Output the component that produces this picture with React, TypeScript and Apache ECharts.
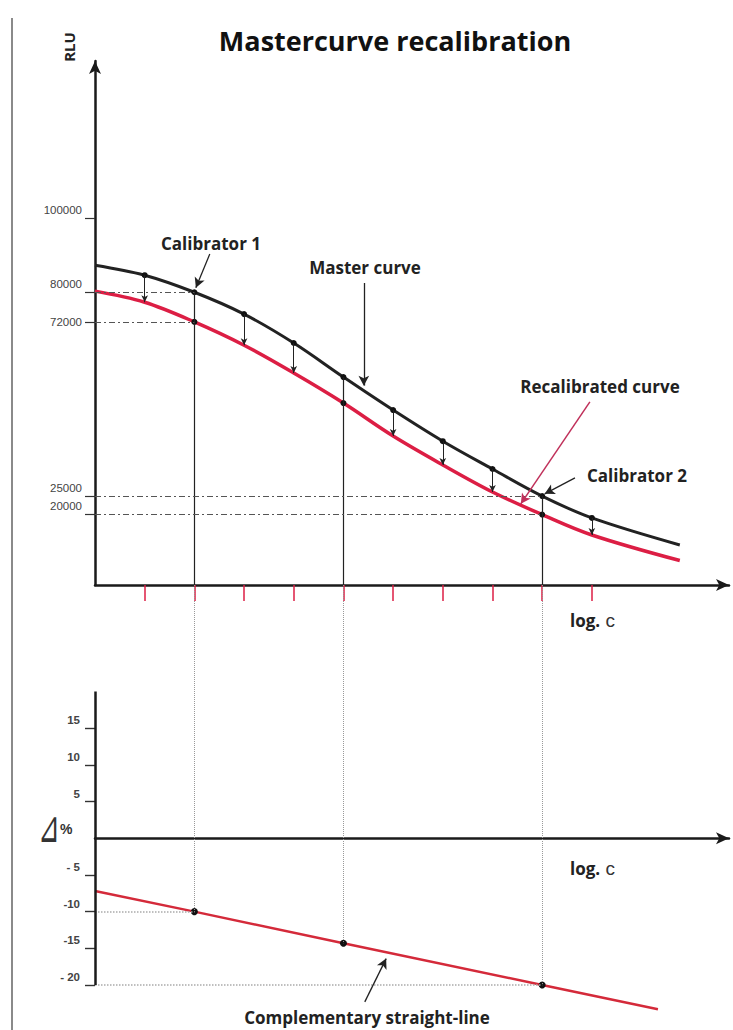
import React, { useEffect, useRef } from "react";
import * as echarts from "echarts";

// ---- data ----
const logC = [0, 1, 2, 3, 4, 5, 6, 7, 8, 9, 10, 11.77];
const masterRLU = [87300, 84600, 80000, 74100, 66300, 57100, 48200, 39800, 32300, 25000, 19100, 11800];
const recalRLU = [80300, 77300, 72000, 65700, 58200, 50100, 41200, 33400, 26100, 20000, 14500, 7600];
const calibratorIdx = [2, 5, 9];
const shiftArrowIdx = [1, 3, 4, 6, 7, 8, 10];
const xTickValues = [1, 2, 3, 4, 5, 6, 7, 8, 9, 10];
const rluTicks = [100000, 80000, 72000, 25000, 20000];
const rluTickLabels = ["100000", "80000", "72000", "25000", "20000"];
const refLineIdx = [2, 9];

const deltaX = [0, 2, 5, 9, 11.33];
const deltaPct = [-7.2, -10, -14.3, -20, -23.3];
const deltaPointIdx = [1, 2, 3];
const deltaTicks = [15, 10, 5, -5, -10, -15, -20];
const deltaTickLabels = ["15", "10", "5", "- 5", "-10", "-15", "- 20"];
const deltaRefIdx = [1, 3];

// annotation arrows [from, to] in data units
const cal1Arrow = [[2.31, 90300], [2.03, 81200]];
const masterArrow = [[5.41, 82500], [5.41, 54800]];
const recalArrow = [[9.96, 50400], [8.57, 22900]];
const cal2Arrow = [[9.66, 29900], [9.05, 25600]];
const complArrow = [[5.43, -22.3], [5.86, -16.4]];

const FONT = "'Open Sans', 'Noto Sans', sans-serif";
const LABEL_FONT = "'Liberation Sans', Arial, sans-serif";
const RED = "#dc1e44";
const X_MAX = 12.76;
const Y_MAX = 142400;
const Y_MIN = 1000;
const D_MAX = 34.5;
const D_MIN = -25;

function arrowLine(pair: number[][], color: string, width: number, size: number) {
  return [
    { coord: pair[0], symbol: "none", lineStyle: { color, width, type: "solid" } },
    { coord: pair[1], symbol: "arrow", symbolSize: [size * 0.8, size] },
  ];
}

const annot = (text: string, x: number, y: number) => ({
  type: "text",
  x,
  y,
  style: {
    text,
    fontFamily: FONT,
    fontWeight: "bold",
    fontSize: 17,
    fill: "#222",
    align: "center",
    verticalAlign: "middle",
  },
});

const logCText = (y: number) => ({
  type: "text",
  x: 570,
  y,
  style: {
    text: "{a|log.}{b| c}",
    verticalAlign: "middle",
    rich: {
      a: { fontFamily: FONT, fontWeight: "bold", fontSize: 17, fill: "#222" },
      b: { fontFamily: LABEL_FONT, fontSize: 19, fill: "#333" },
    },
  },
});

export default function App() {
  const ref = useRef<HTMLDivElement>(null);
  useEffect(() => {
    const chart = echarts.init(ref.current!, null, { renderer: "svg" });

    const masterMarks: any[] = [];
    calibratorIdx.forEach((i) => {
      masterMarks.push([
        { coord: [logC[i], masterRLU[i]], symbol: "none", lineStyle: { color: "#222", width: 1.2, type: "solid" } },
        { coord: [logC[i], Y_MIN], symbol: "none" },
      ]);
    });
    shiftArrowIdx.forEach((i) => {
      masterMarks.push([
        { coord: [logC[i], masterRLU[i]], symbol: "none", lineStyle: { color: "#222", width: 1, type: "solid" } },
        { coord: [logC[i], recalRLU[i]], symbol: "arrow", symbolSize: [5, 7] },
      ]);
    });
    refLineIdx.forEach((i) => {
      [masterRLU[i], recalRLU[i]].forEach((v) => {
        masterMarks.push([
          { coord: [0, v], symbol: "none", lineStyle: { color: "#555", width: 1.2, type: [6, 3, 2, 3] } },
          { coord: [logC[i], v], symbol: "none" },
        ]);
      });
    });
    masterMarks.push(arrowLine(cal1Arrow, "#222", 1.3, 10));
    masterMarks.push(arrowLine(masterArrow, "#222", 1.3, 10));
    masterMarks.push(arrowLine(recalArrow, "#c0305a", 1.5, 10));
    masterMarks.push(arrowLine(cal2Arrow, "#222", 1.3, 10));

    const deltaMarks: any[] = [];
    deltaPointIdx.forEach((j) => {
      deltaMarks.push([
        { coord: [deltaX[j], D_MAX], symbol: "none", lineStyle: { color: "#999", width: 1, type: "dotted" } },
        { coord: [deltaX[j], deltaPct[j]], symbol: "none" },
      ]);
    });
    deltaRefIdx.forEach((j) => {
      deltaMarks.push([
        { coord: [0, deltaPct[j]], symbol: "none", lineStyle: { color: "#aaa", width: 1.5, type: "dotted" } },
        { coord: [deltaX[j], deltaPct[j]], symbol: "none" },
      ]);
    });
    deltaMarks.push([
      { coord: [0, deltaTicks[deltaTicks.length - 1]], symbol: "none", lineStyle: { color: "#1a1a1a", width: 2.5, type: "solid" } },
      { coord: [0, 20], symbol: "none" },
    ]);
    deltaMarks.push(arrowLine(complArrow, "#222", 1.3, 10));

    const option: any = {
      animation: false,
      backgroundColor: "#fff",
      grid: [
        { left: 95, top: 61, width: 634, height: 524 },
        { left: 95, top: 585, width: 634, height: (D_MAX - D_MIN) * 7.34 },
      ],
      xAxis: [
        {
          gridIndex: 0,
          type: "value",
          min: 0,
          max: X_MAX,
          axisLine: {
            show: true,
            onZero: false,
            symbol: ["none", "arrow"],
            symbolSize: [9, 13],
            lineStyle: { color: "#1a1a1a", width: 2.5 },
          },
          axisTick: { show: true, customValues: xTickValues, length: 16, lineStyle: { color: RED, width: 1.5 } },
          axisLabel: { show: false },
          splitLine: { show: false },
        },
        {
          gridIndex: 1,
          type: "value",
          min: 0,
          max: X_MAX,
          axisLine: {
            show: true,
            onZero: true,
            symbol: ["none", "arrow"],
            symbolSize: [9, 13],
            lineStyle: { color: "#1a1a1a", width: 2.5 },
          },
          axisTick: { show: false },
          axisLabel: { show: false },
          splitLine: { show: false },
        },
      ],
      yAxis: [
        {
          gridIndex: 0,
          type: "value",
          min: Y_MIN,
          max: Y_MAX,
          axisLine: {
            show: true,
            onZero: false,
            symbol: ["none", "arrow"],
            symbolSize: [9, 13],
            lineStyle: { color: "#1a1a1a", width: 2.5 },
          },
          axisTick: { show: true, customValues: rluTicks, length: 10, lineStyle: { color: "#333", width: 1.2 } },
          axisLabel: {
            show: true,
            customValues: rluTicks,
            margin: 13,
            verticalAlign: "middle",
            formatter: (v: number) => {
              const t = rluTickLabels[rluTicks.indexOf(v)];
              return v === 72000 ? `{m|${t}}` : `{u|${t}}`;
            },
            rich: {
              u: { fontSize: 11.5, color: "#444", fontFamily: LABEL_FONT, padding: [0, 0, 17, 0] },
              m: { fontSize: 11.5, color: "#444", fontFamily: LABEL_FONT },
            },
          },
          splitLine: { show: false },
        },
        {
          gridIndex: 1,
          type: "value",
          min: D_MIN,
          max: D_MAX,
          axisLine: { show: false },
          axisTick: { show: true, customValues: deltaTicks, length: 10, lineStyle: { color: "#333", width: 1.4 } },
          axisLabel: {
            show: true,
            customValues: deltaTicks,
            margin: 15,
            verticalAlign: "bottom",
            padding: [0, 0, 2, 0],
            fontSize: 11.5,
            fontWeight: "bold",
            color: "#444",
            fontFamily: LABEL_FONT,
            formatter: (v: number) => deltaTickLabels[deltaTicks.indexOf(v)],
          },
          splitLine: { show: false },
        },
      ],
      series: [
        {
          type: "line",
          name: "Master curve",
          xAxisIndex: 0,
          yAxisIndex: 0,
          data: logC.map((x, i) => [x, masterRLU[i]]),
          smooth: 0.35,
          symbol: "circle",
          symbolSize: (_v: any, p: any) =>
            shiftArrowIdx.includes(p.dataIndex) || calibratorIdx.includes(p.dataIndex) ? 6 : 0,
          itemStyle: { color: "#111" },
          lineStyle: { color: "#222", width: 3 },
          z: 3,
          markLine: { silent: true, label: { show: false }, data: masterMarks },
        },
        {
          type: "line",
          name: "Recalibrated curve",
          xAxisIndex: 0,
          yAxisIndex: 0,
          data: logC.map((x, i) => [x, recalRLU[i]]),
          smooth: 0.35,
          symbol: "circle",
          symbolSize: (_v: any, p: any) => (calibratorIdx.includes(p.dataIndex) ? 6 : 0),
          itemStyle: { color: "#111" },
          lineStyle: { color: RED, width: 3.5 },
          z: 2,
        },
        {
          type: "line",
          name: "Complementary straight-line",
          xAxisIndex: 1,
          yAxisIndex: 1,
          data: deltaX.map((x, i) => [x, deltaPct[i]]),
          symbol: "circle",
          symbolSize: (_v: any, p: any) => (deltaPointIdx.includes(p.dataIndex) ? 7 : 0),
          itemStyle: { color: "#111" },
          lineStyle: { color: "#d42a3a", width: 2.5 },
          z: 3,
          markLine: { silent: true, label: { show: false }, data: deltaMarks },
        },
      ],
      graphic: [
        {
          type: "line",
          shape: { x1: 12, y1: 18, x2: 12, y2: 1030 },
          style: { stroke: "#8a8a8a", lineWidth: 2 },
        },
        {
          type: "text",
          x: 395,
          y: 40,
          style: {
            text: "Mastercurve recalibration",
            fontFamily: FONT,
            fontWeight: "bold",
            fontSize: 27,
            fill: "#111",
            align: "center",
            verticalAlign: "middle",
          },
        },
        {
          type: "text",
          x: 69,
          y: 47,
          rotation: Math.PI / 2,
          style: {
            text: "RLU",
            fontFamily: FONT,
            fontWeight: "bold",
            fontSize: 15,
            fill: "#222",
            align: "center",
            verticalAlign: "middle",
          },
        },
        annot("Calibrator 1", 211, 243),
        annot("Master curve", 365, 267),
        annot("Recalibrated curve", 600, 386),
        annot("Calibrator 2", 637, 475),
        annot("Complementary straight-line", 367, 1017),
        logCText(620),
        logCText(868),
        {
          type: "text",
          x: 49,
          y: 827,
          scaleY: 1.7,
          style: {
            text: "⊿",
            fontFamily: "'DejaVu Sans', sans-serif",
            fontSize: 26,
            fill: "#333",
            align: "center",
            verticalAlign: "middle",
          },
        },
        {
          type: "text",
          x: 60,
          y: 829,
          style: {
            text: "%",
            fontFamily: LABEL_FONT,
            fontWeight: "bold",
            fontSize: 14,
            fill: "#333",
            verticalAlign: "middle",
          },
        },
      ],
    };

    chart.setOption(option);
    return () => chart.dispose();
  }, []);

  return (
    <div
      ref={ref}
      style={{ position: "fixed", left: 0, top: 0, width: 733, height: 1030, background: "#fff" }}
    />
  );
}
